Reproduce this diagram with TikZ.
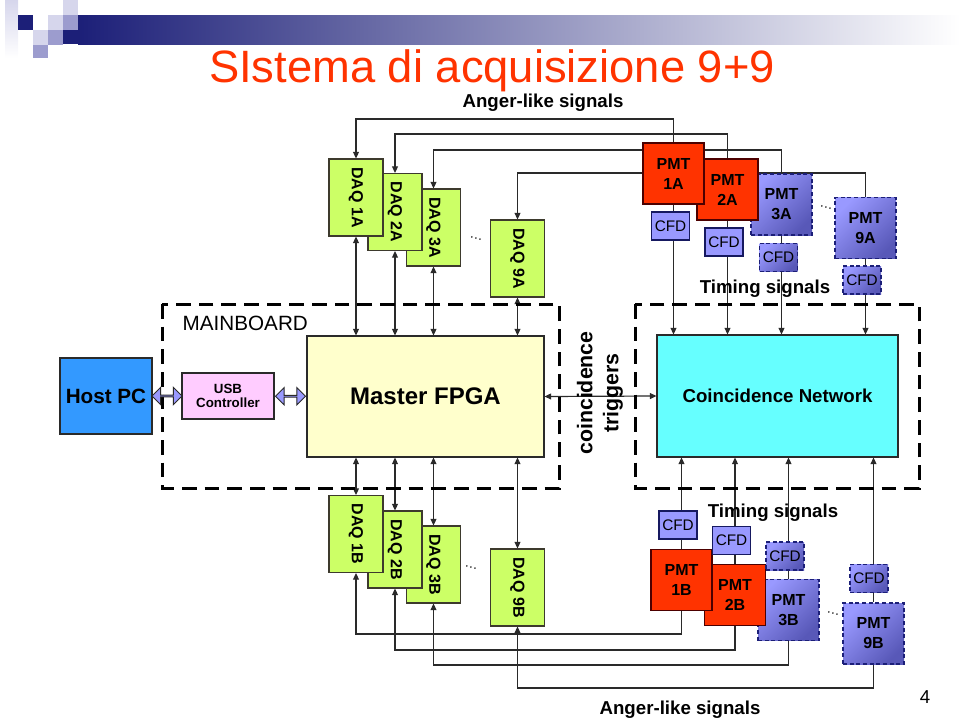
\documentclass[tikz,border=0pt]{standalone}
\usepackage{fontspec}
\setmainfont{Liberation Sans}
\usepackage{graphicx}
\usetikzlibrary{arrows.meta, calc, shapes.arrows, backgrounds}
\definecolor{cdaq}{HTML}{CCFF66}
\definecolor{cpmt}{HTML}{FF3300}
\definecolor{ccfd}{HTML}{9999FF}
\definecolor{ccfddark}{HTML}{5858B8}
\definecolor{chost}{HTML}{3399FF}
\definecolor{cusb}{HTML}{FFCCFF}
\definecolor{cfpga}{HTML}{FFFFCC}
\definecolor{ccn}{HTML}{66FFFF}
\definecolor{cline}{HTML}{2A2A2A}
\definecolor{cnavy}{HTML}{1C1F78}
\definecolor{csqlight}{HTML}{D6D6EC}
\definecolor{csqmid}{HTML}{9C9CCE}
\tikzset{
  blk/.style={draw=cline, line width=0.8pt, inner sep=0pt, align=center},
  daqbox/.style={blk, draw=black!75!olive, fill=cdaq, minimum width=40.5pt, minimum height=57.75pt, font=\fontsize{12}{13}\selectfont\bfseries},
  pmtbox/.style={blk, draw=black!70!red, fill=cpmt, minimum size=45.75pt, font=\fontsize{12}{15}\selectfont\bfseries},
  pmtdash/.style={blk, draw=cnavy, densely dashed, top color=ccfd, bottom color=ccfddark, shading angle=45, minimum size=45.75pt, font=\fontsize{12}{15}\selectfont\bfseries},
  cfdbox/.style={blk, draw=cnavy!80!black, fill=ccfd, minimum width=28.5pt, minimum height=21pt, font=\fontsize{11.5}{13}\selectfont},
  cfddash/.style={blk, draw=cnavy, densely dashed, top color=ccfd, bottom color=ccfddark, shading angle=45, minimum width=28.5pt, minimum height=21pt, font=\fontsize{11.5}{13}\selectfont},
  sig/.style={draw=cline, line width=0.9pt, -{Triangle[length=5pt, width=4.5pt]}},
  dual/.style={sig, {Triangle[length=5pt, width=4.5pt]}-{Triangle[length=5pt, width=4.5pt]}},
  board/.style={draw=black, line width=2.25pt, dash pattern=on 11pt off 6pt},
  fat/.style={double arrow, draw=cline, fill=ccfd, line width=0.7pt, inner sep=0pt, minimum width=13pt, minimum height=22.5pt, double arrow head extend=3pt},
  lbl/.style={font=\fontsize{#1}{#1}\selectfont\bfseries},
  dots/.style={font=\fontsize{10}{10}\selectfont, rotate=-15},
}

\begin{document}
\begin{tikzpicture}[x=0.75pt, y=-0.75pt]
  \useasboundingbox (0,0) rectangle (960,721);
  % header
  \shade[left color=cnavy, right color=white] (78,15) rectangle (960,44);
  \shade[top color=csqlight, bottom color=white] (5,0) rectangle (18,58);
  \fill[cnavy] (18,15) rectangle (33,30);
  \fill[cnavy] (63,30) rectangle (78,44);
  \fill[csqlight] (63,0) rectangle (78,15);
  \fill[csqlight] (48,15) rectangle (63,30);
  \fill[csqmid] (63,15) rectangle (78,30);
  \fill[csqlight] (33,30) rectangle (48,45);
  \fill[csqmid] (48,30) rectangle (63,45);
  \fill[csqmid] (33,45) rectangle (48,58);
  \node[font=\fontsize{34}{40}\selectfont, text=cpmt, anchor=base, inner sep=0pt] (title) at (492,82) {SIstema di acquisizione 9+9};
  \node[lbl=14, inner sep=0pt] (angertop) at (543,102.5) {Anger-like signals};
  \node[lbl=14] (angerbot) at (680,710) {Anger-like signals};
  \node[font=\fontsize{14}{14}\selectfont] (page) at (925,697) {4};

  % boards
  \draw[board] (162,304) rectangle (559,488);
  \draw[board] (635,304) rectangle (919,488);
  \node[anchor=west, font=\fontsize{15.5}{18}\selectfont] (mblabel) at (178,323) {MAINBOARD};

  % main blocks
  \node[blk, fill=chost, minimum width=69pt, minimum height=57pt, lbl=15.5] (hostpc) at (106,396) {Host PC};
  \node[blk, fill=cusb, minimum width=69pt, minimum height=34.5pt, lbl=10] (usb) at (228,396) {USB\\Controller};
  \node[blk, fill=cfpga, minimum width=177.75pt, minimum height=90.75pt, lbl=18] (fpga) at (425.5,396.5) {Master FPGA};
  \node[blk, fill=ccn, minimum width=180.75pt, minimum height=91.5pt, lbl=14] (cn) at (777.5,396) {Coincidence Network};
  \node[fat] (link1) at ($(hostpc.east)!0.5!(usb.west)$) {};
  \node[fat] (link2) at ($(usb.east)!0.5!(fpga.west)$) {};
  \node[rotate=90, align=center, font=\fontsize{16}{19.5}\selectfont\bfseries] (trig) at (600,393) {coincidence\\triggers};

  % DAQ boards
  \foreach \k/\cx/\cy in {9/517.5/258.5, 3/433.5/227.5, 2/395/212, 1/356/197.5}
    \node[daqbox] (daq\k a) at (\cx,\cy) {\rotatebox{-90}{DAQ \k A}};
  \foreach \k/\cx/\cy in {9/517.5/587.5, 3/433.5/564.5, 2/395/549.5, 1/356/534}
    \node[daqbox] (daq\k b) at (\cx,\cy) {\rotatebox{-90}{DAQ \k B}};
  \node[dots] (dotsdaqa) at (476,239) {\dots};
  \node[dots] (dotsdaqb) at (471,568) {\dots};

  % PMTs and CFDs, side A
  \node[pmtdash] (pmt9a) at (865.5,228) {PMT\\9A};
  \node[pmtdash] (pmt3a) at (781.5,204.5) {PMT\\3A};
  \node[pmtbox] (pmt2a) at (727.5,189.5) {PMT\\2A};
  \node[pmtbox] (pmt1a) at (673.5,173.5) {PMT\\1A};
  \node[cfdbox] (cfd1a) at (670.5,226) {CFD};
  \node[cfdbox] (cfd2a) at (724,242) {CFD};
  \node[cfddash] (cfd3a) at (778.5,257.5) {CFD};
  \node[cfddash] (cfd9a) at (862,280) {CFD};
  \node[dots] (dotspmta) at (826,208) {\dots};
  \node[lbl=14] (timinga) at (765,289) {Timing signals};

  % PMTs and CFDs, side B
  \node[pmtdash] (pmt9b) at (873.5,633.5) {PMT\\9B};
  \node[pmtdash] (pmt3b) at (788.5,610) {PMT\\3B};
  \node[pmtbox] (pmt2b) at (735,595) {PMT\\2B};
  \node[pmtbox] (pmt1b) at (681.5,580) {PMT\\1B};
  \node[cfdbox] (cfd1b) at (678,525) {CFD};
  \node[cfdbox] (cfd2b) at (731.5,540.5) {CFD};
  \node[cfddash] (cfd3b) at (785,556) {CFD};
  \node[cfddash] (cfd9b) at (869,578.5) {CFD};
  \node[dots] (dotspmtb) at (833,614) {\dots};
  \node[lbl=14] (timingb) at (773,513) {Timing signals};

  % signal lines
  \coordinate (bus1a) at (0,119);
  \coordinate (bus2a) at (0,134);
  \coordinate (bus3a) at (0,150);
  \coordinate (bus9a) at (0,173);
  \coordinate (bus1b) at (0,634);
  \coordinate (bus2b) at (0,650);
  \coordinate (bus3b) at (0,665);
  \coordinate (bus9b) at (0,688);
  \begin{scope}[on background layer]
    \foreach \k in {1,2,3,9} {
      \draw[sig] (pmt\k a.north) -- (pmt\k a.north |- bus\k a) -- (daq\k a.north |- bus\k a) -- (daq\k a.north);
      \draw[sig] (pmt\k b.south) -- (pmt\k b.south |- bus\k b) -- (daq\k b.south |- bus\k b) -- (daq\k b.south);
      \draw[sig] (pmt\k a.south) -- (pmt\k a.south |- cn.north);
      \draw[sig] (pmt\k b.north) -- (pmt\k b.north |- cn.south);
      \draw[dual] (daq\k a.south) -- (daq\k a.south |- fpga.north);
      \draw[dual] (fpga.south -| daq\k b.north) -- (daq\k b.north);
    }
    \draw[dual] (fpga.east) -- (cn.west);
  \end{scope}
\end{tikzpicture}
\end{document}
